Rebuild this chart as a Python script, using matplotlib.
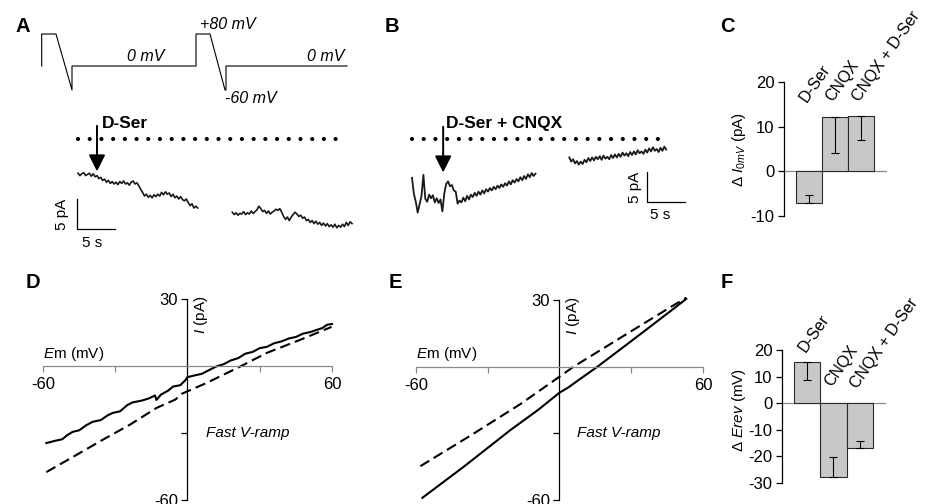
import numpy as np
import matplotlib
matplotlib.use("Agg")
import matplotlib.pyplot as plt

plt.rcParams['font.family'] = ['Liberation Sans', 'DejaVu Sans']
plt.rcParams['mathtext.fontset'] = 'custom'
plt.rcParams['mathtext.rm'] = 'Liberation Sans'
plt.rcParams['mathtext.it'] = 'Liberation Sans:italic'
plt.rcParams['mathtext.bf'] = 'Liberation Sans:bold'
plt.rcParams['axes.unicode_minus'] = False

# ---- data ----
# voltage protocol (arbitrary time units, mV)
proto_t = [0, 0, 14.3, 30.3, 30.3, 154.3, 154.3, 168.3, 183.3, 184.3, 184.3, 305.3]
proto_mv = [0, 80, 80, -60, 0, 0, 80, 80, -60, -60, 0, 0]

# A: holding current at 0 mV (pA), sampled every 0.25 s
a1_t0 = 0.0
a1_pa = [0.3, -0.1, 0.2, 0.4, -0.1, 0.1, 0.3, -0.2, 0.2, -0.3, -0.1, -0.6,
         -0.4, -0.9, -0.7, -1.2, -0.9, -1.4, -1.1, -1.5, -1.2, -1.6, -1.1, -1.4,
         -1.0, -1.5, -1.3, -1.7, -1.2, -1.0, -1.5, -1.3, -1.8, -2.4, -2.9, -3.5,
         -3.2, -3.7, -3.4, -3.8, -3.3, -3.6, -3.2, -3.5, -2.9, -3.3, -2.8, -3.2,
         -3.0, -3.6, -3.2, -3.8, -3.5, -4.0, -3.6, -4.1, -4.3, -4.0, -4.6, -5.1,
         -4.8, -5.5, -5.2, -5.5]
a2_t0 = 20.3
a2_pa = [-6.2, -6.6, -6.3, -6.7, -6.4, -6.5, -6.1, -6.6, -6.3, -6.5, -6.0, -6.4,
         -6.1, -5.8, -5.2, -5.6, -6.1, -5.9, -6.4, -6.0, -6.5, -6.2, -6.0, -5.7,
         -5.9, -5.6, -6.2, -6.9, -7.4, -7.0, -7.6, -7.0, -6.6, -6.2, -6.5, -6.9,
         -6.7, -7.2, -7.0, -7.6, -7.4, -7.9, -7.6, -8.1, -7.7, -8.2, -7.9, -8.4,
         -8.0, -8.5, -8.1, -8.6, -8.3, -8.7, -8.2, -8.8, -8.4, -8.7, -8.2, -8.6,
         -7.9, -8.4, -7.8, -8.1]

# B: D-Ser + CNQX
b1_t0 = 0.0
b1_pa = [3.2, 0.5, -0.8, -2.6, -1.2, 0.2, 3.7, -0.3, -0.8, 0.4, -0.2, 0.3,
         -0.9, -0.2, -1.0, -0.4, -2.4, 0.6, 2.2, 2.6, 1.8, 2.0, 1.1, 0.9,
         -1.1, -0.6, -0.9, -0.1, -0.7, 0.2, -0.4, 0.4, 0.0, 0.7, 0.2, 0.9,
         0.4, 1.1, 0.6, 1.3, 0.9, 1.5, 1.1, 1.7, 1.3, 1.9, 1.5, 2.1,
         1.7, 2.3, 1.9, 2.6, 2.1, 2.8, 2.4, 3.0, 2.6, 3.3, 2.8, 3.5,
         3.0, 3.8, 3.3, 4.0, 3.5, 3.9]
b2_t0 = 20.7
b2_pa = [6.6, 5.9, 6.3, 5.6, 6.0, 5.4, 5.9, 5.5, 6.2, 5.8, 6.5, 6.0, 6.6,
         6.1, 6.7, 6.3, 6.8, 6.2, 6.9, 6.4, 6.7, 6.3, 7.0, 6.5, 7.1, 6.6,
         7.2, 6.7, 7.4, 6.9, 7.3, 6.8, 7.5, 7.0, 7.6, 7.1, 7.8, 7.3, 7.6,
         7.2, 7.9, 7.4, 8.1, 7.6, 8.3, 7.7, 8.0, 7.5, 8.2, 7.7, 8.4, 7.9]
sample_dt = 0.25

# C and F: bar summaries
groups = ["D-Ser", "CNQX", "CNQX + D-Ser"]
c_vals = [-7.0, 12.2, 12.3]
c_err = [1.8, 8.0, 5.2]
f_vals = [15.6, -27.6, -16.9]
f_err = [7.0, 7.4, 2.7]

# D: fast V-ramp I-V (mV, pA)
d_solid_mv = [-58.6, -55, -52, -50, -47.7, -45, -42, -39.4, -36, -33, -31, -28,
              -25, -22.8, -19, -16, -13.5, -12.9, -11, -8, -6, -3, -1, 0, 3, 6,
              9, 12, 15, 18, 21, 24, 27, 30, 33, 36, 39, 42, 45, 48, 51, 54,
              56, 58, 60]
d_solid_pa = [-34.5, -33.5, -32.8, -31, -29.5, -28.8, -26.5, -25, -24.2, -22,
              -21, -20.3, -17.5, -16.3, -15.5, -14.5, -13.2, -15.2, -12.8, -11,
              -9.2, -8.6, -6.5, -5, -4.2, -3.5, -1.8, -0.2, 0.8, 2.5, 3.5, 5.5,
              6.3, 8, 8.6, 10.2, 11, 12.3, 13, 14.5, 15.2, 16.3, 17, 18.5, 18.8]
d_dash_mv = [-58.6, -47.7, -35.3, -24.1, -12.9, -5, -2.5, 7.9, 21.6, 32.8, 46.5, 59.8]
d_dash_pa = [-47.5, -40.8, -33.1, -26.4, -18.8, -15, -12.5, -7.6, -0.4, 5.8, 11.6, 17.5]

# E
e_solid_mv = [-57.3, -40, -20.5, -9, 0, 3.5, 8, 15.9, 30, 46.4, 53]
e_solid_pa = [-59, -45, -28.5, -19.5, -11.7, -9.5, -6, 0, 11.5, 25, 30.5]
e_dash_mv = [-58.2, -37.2, -16.3, 0, 5.9, 25.5, 46.4, 53]
e_dash_pa = [-44.8, -31, -16.8, -4.5, 0, 13, 26.8, 31]

W, H = 929, 504
fig = plt.figure(figsize=(W / 100, H / 100), dpi=100)

BAR_FC = "#c8c8c8"
GRAY = "#8a8a8a"


def px_axes(x0, y0, x1, y1):
    ax = fig.add_axes([x0 / W, 1 - y1 / H, (x1 - x0) / W, (y1 - y0) / H])
    ax.patch.set_alpha(0)
    return ax


def trace_t(t0, vals):
    return t0 + sample_dt * np.arange(len(vals))


def dotted(ax, t0, t1, level):
    ax.plot([t0, t1], [level, level], color="k", lw=3.0,
            linestyle=(0, (0.01, 2.8)), dash_capstyle="round", clip_on=False)


def arrow(ax, x, y_from, y_to):
    ax.annotate("", xy=(x, y_to), xytext=(x, y_from),
                arrowprops=dict(arrowstyle="-|>,head_length=1.0,head_width=0.5",
                                lw=1.4, color="k", shrinkA=0, shrinkB=0))


# ---- A: protocol ----
ax = px_axes(41.7, 34, 347, 90)
ax.set_xlim(0, 305.3)
ax.set_ylim(-60, 80)
ax.axis("off")
ax.plot(proto_t, proto_mv, color="k", lw=0.8, clip_on=False)
ax.text(85, 4, "0 mV", style="italic", fontsize=11.5, va="bottom")
ax.text(158, 84, "+80 mV", style="italic", fontsize=11.5, va="bottom")
ax.text(183, -62, "-60 mV", style="italic", fontsize=11.5, va="top")
ax.text(265, 4, "0 mV", style="italic", fontsize=11.5, va="bottom")

# ---- A: traces ----
ax = px_axes(78, 139, 352, 229)
ax.set_xlim(0, 36.05)
ax.set_ylim(-9, 6)
ax.axis("off")
ax.plot(trace_t(a1_t0, a1_pa), a1_pa, color="#1a1a1a", lw=1.2, clip_on=False)
ax.plot(trace_t(a2_t0, a2_pa), a2_pa, color="#1a1a1a", lw=1.2, clip_on=False)
dotted(ax, 0, 35.1, 6)
arrow(ax, 2.5, 8.2, 0.6)
ax.text(3.2, 8.5, "D-Ser", fontweight="bold", fontsize=12.5, va="center")
ax.plot([-0.13, -0.13, 4.87], [-4, -9, -9], color="k", lw=0.9, clip_on=False)
ax.text(-2.1, -6.5, "5 pA", rotation=90, fontsize=11, ha="center", va="center")
ax.text(1.8, -11.3, "5 s", fontsize=11, ha="center", va="center")

# ---- B: traces ----
ax = px_axes(412, 139, 685, 202)
ax.set_xlim(0, 35.92)
ax.set_ylim(-0.83, 9.67)
ax.axis("off")
ax.plot(trace_t(b1_t0, b1_pa), b1_pa, color="#1a1a1a", lw=1.3, clip_on=False)
ax.plot(trace_t(b2_t0, b2_pa), b2_pa, color="#1a1a1a", lw=1.3, clip_on=False)
dotted(ax, 0, 33.7, 9.67)
arrow(ax, 4.1, 11.7, 4.1)
ax.text(4.5, 12.2, "D-Ser + CNQX", fontweight="bold", fontsize=12.5, va="center")
ax.plot([30.9, 30.9, 35.9], [4.17, -0.83, -0.83], color="k", lw=0.9, clip_on=False)
ax.text(29.3, 1.67, "5 pA", rotation=90, fontsize=11, ha="center", va="center")
ax.text(32.6, -3.0, "5 s", fontsize=11, ha="center", va="center")


# ---- C / F: bar charts ----
def bar_panel(box, ylim, yticks, vals, errs, label_y, ylabel, ylab_xy):
    ax = px_axes(*box)
    x = np.arange(len(vals))
    ax.bar(x, vals, width=1.0, color=BAR_FC, edgecolor="#2a2a2a", lw=0.8, zorder=2)
    lower = [e if v > 0 else 0 for v, e in zip(vals, errs)]
    upper = [e if v < 0 else 0 for v, e in zip(vals, errs)]
    ax.errorbar(x, vals, yerr=[lower, upper], fmt="none", ecolor="k",
                elinewidth=0.8, capsize=3, capthick=0.8, zorder=3)
    ax.axhline(0, color=GRAY, lw=0.9, zorder=1)
    ax.set_ylim(*ylim)
    ax.set_xlim(-0.96, 3.0)
    for s in ["top", "right", "bottom"]:
        ax.spines[s].set_visible(False)
    ax.spines["left"].set_linewidth(0.9)
    ax.set_xticks([])
    ax.set_yticks(yticks)
    ax.set_yticklabels([str(t) for t in yticks])
    ax.tick_params(axis="y", length=4, width=0.9, labelsize=12, pad=3)
    for xi, g, ly in zip(x, groups, label_y):
        ax.text(xi + 0.02, ly, g, rotation=55, rotation_mode="anchor",
                ha="left", va="bottom", fontsize=11.5, clip_on=False)
    ax.set_ylabel(ylabel, fontsize=11)
    ax.yaxis.set_label_coords(*ylab_xy)
    return ax


bar_panel((784, 82, 887, 216), (-10, 20), [-10, 0, 10, 20], c_vals, c_err,
          [15.0, 15.0, 15.0], "Δ $I_{0mV}$ (pA)", (-0.35, 0.5))
bar_panel((782, 350, 886, 483), (-30, 20), [-30, -20, -10, 0, 10, 20], f_vals, f_err,
          [18.3, 5.5, 4.5], "Δ $Erev$ (mV)", (-0.33, 0.55))


# ---- D / E: I-V curves ----
def iv_panel(box, solid, dash):
    ax = px_axes(*box)
    ax.set_xlim(-60, 60)
    ax.set_ylim(-60, 30)
    ax.spines["left"].set_position(("data", 0))
    ax.spines["bottom"].set_position(("data", 0))
    ax.spines["top"].set_visible(False)
    ax.spines["right"].set_visible(False)
    ax.spines["left"].set_linewidth(0.9)
    ax.spines["bottom"].set_linewidth(0.9)
    ax.spines["bottom"].set_color(GRAY)
    ax.set_xticks([-60, -30, 30, 60])
    ax.set_xticklabels(["-60", "", "", "60"])
    ax.set_yticks([-60, -30, 30])
    ax.set_yticklabels(["-60", "", "30"])
    ax.tick_params(axis="x", length=4, width=0.9, color=GRAY, labelsize=12, pad=4)
    ax.tick_params(axis="y", length=4, width=0.9, labelsize=12, pad=3)
    ax.plot(solid[0], solid[1], color="k", lw=1.5, clip_on=False)
    ax.plot(dash[0], dash[1], color="k", lw=1.5, dashes=(5, 2.5), clip_on=False)
    ax.text(-60, 1.5, "$E$m (mV)", fontsize=11, ha="left", va="bottom")
    ax.text(2.0, 23, "$I$ (pA)", fontsize=11, rotation=90, ha="left", va="center")
    ax.text(7.5, -30, "Fast V-ramp", style="italic", fontsize=11, ha="left", va="center")
    return ax


iv_panel((43, 299, 332, 500), (d_solid_mv, d_solid_pa), (d_dash_mv, d_dash_pa))
iv_panel((416, 300, 703, 500), (e_solid_mv, e_solid_pa), (e_dash_mv, e_dash_pa))

# panel letters
for letter, (px, py) in zip("ABCDEF", [(23, 26), (392, 26), (727, 26),
                                        (33, 283), (395, 283), (727, 283)]):
    fig.text(px / W, 1 - py / H, letter, fontsize=14.5, fontweight="bold",
             ha="center", va="center")

fig.savefig("out.png", dpi=100)
